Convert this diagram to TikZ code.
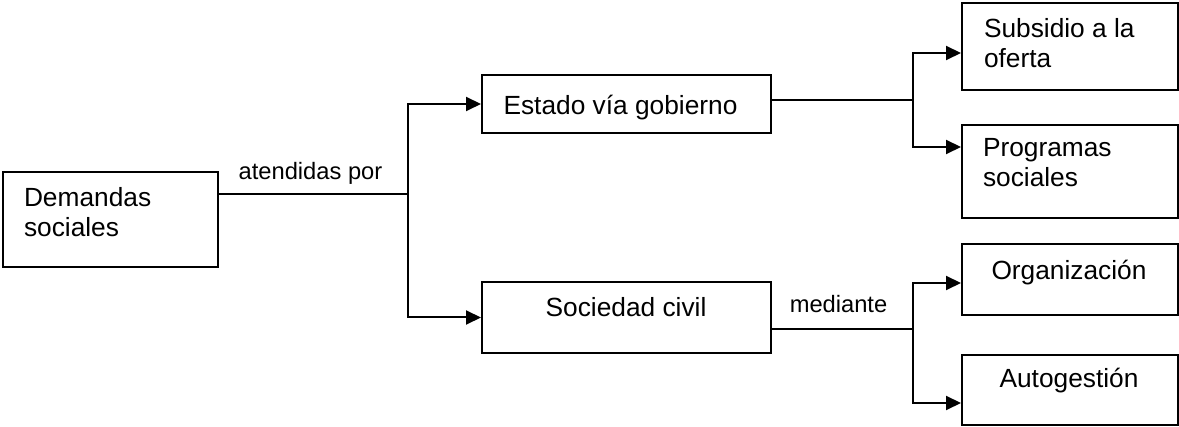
\documentclass[tikz,border=0pt]{standalone}
\usepackage{fontspec}
\setmainfont{Liberation Sans}
\usetikzlibrary{arrows.meta}

\begin{document}
\begin{tikzpicture}[x=1pt, y=-1pt, line width=2pt,
    caja/.style={draw, inner sep=0pt},
    txt/.style={font=\fontsize{26.3}{30}\selectfont, align=left, inner sep=0pt},
    etiq/.style={font=\fontsize{23.7}{27}\selectfont, inner sep=0pt},
    flecha/.style={-{Triangle[length=15pt,width=14pt]}}]
        \useasboundingbox (0,0) rectangle (1179,427);
        \node[caja, minimum width=215pt, minimum height=95pt] (dem) at (110.5,219.5) {};
        \node[caja, minimum width=289pt, minimum height=58pt] (est) at (626.5,104) {};
        \node[caja, minimum width=289pt, minimum height=71pt] (soc) at (626.5,317.5) {};
        \node[caja, minimum width=216pt, minimum height=87pt] (sub) at (1070,46.5) {};
        \node[caja, minimum width=216pt, minimum height=93pt] (prog) at (1070,171.5) {};
        \node[caja, minimum width=216pt, minimum height=71pt] (org) at (1070,279.5) {};
        \node[caja, minimum width=216pt, minimum height=70pt] (auto) at (1070,390) {};
        \node[txt, anchor=base west] (demtxt) at (23,237) {Demandas\\sociales};
        \node[txt, anchor=base] (esttxt) at (620.5,115) {Estado vía gobierno};
        \node[txt, anchor=base] (soctxt) at (626,317) {Sociedad civil};
        \node[txt, anchor=base west] (subtxt) at (983,68) {Subsidio a la\\oferta};
        \node[txt, anchor=base west] (progtxt) at (982,187) {Programas\\sociales};
        \node[txt, anchor=base] (orgtxt) at (1069,280) {Organización};
        \node[txt, anchor=base] (autotxt) at (1069,388) {Autogestión};
        \coordinate (j1) at (408,194);
        \coordinate (j2) at (913,100);
        \coordinate (j3) at (913,329);
        \draw (dem.east |- j1) -- (j1);
        \node[etiq, anchor=base] (atend) at (310.5,180) {atendidas por};
        \draw[flecha] (j1) |- (est.west);
        \draw[flecha] (j1) |- (soc.west);
        \draw (est.east |- j2) -- (j2);
        \draw[flecha] (j2) |- ([yshift=-6.5pt]sub.west);
        \draw[flecha] (j2) |- ([yshift=24.5pt]prog.west);
        \draw (soc.east |- j3) -- (j3);
        \node[etiq, anchor=base] (med) at (838.5,313) {mediante};
        \draw[flecha] (j3) |- ([yshift=-3.5pt]org.west);
        \draw[flecha] (j3) |- ([yshift=-13pt]auto.west);
\end{tikzpicture}
\end{document}
